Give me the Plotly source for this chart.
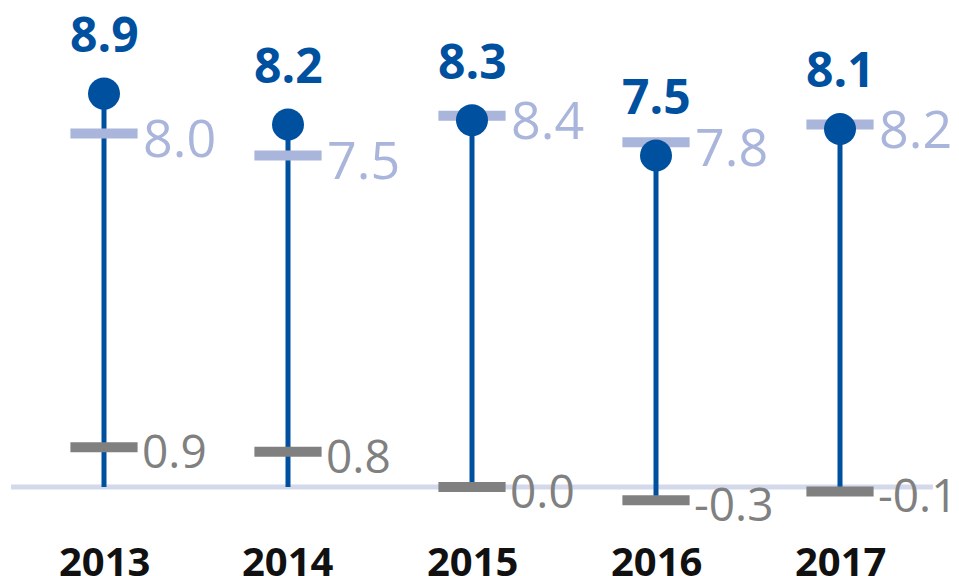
import plotly.graph_objects as go

years = ["2013", "2014", "2015", "2016", "2017"]
dot_values = [8.9, 8.2, 8.3, 7.5, 8.1]
light_values = [8.0, 7.5, 8.4, 7.8, 8.2]
gray_values = [0.9, 0.8, 0.0, -0.3, -0.1]

BLUE = "#0050a0"
LIGHT = "#a9b5da"
GRAY = "#808080"
BASE = "#d3d9eb"
FONT = "Open Sans"

xs = list(range(len(years)))
fig = go.Figure()

# baseline
fig.add_shape(type="line", x0=-0.505, x1=len(years) - 1 + 0.505, y0=0, y1=0,
              line=dict(color=BASE, width=5), layer="below")

# stems
sx, sy = [], []
for i, (d, g) in enumerate(zip(dot_values, gray_values)):
    sx += [i, i, None]
    sy += [min(0, g), d, None]
fig.add_trace(go.Scatter(x=sx, y=sy, mode="lines", line=dict(color=BLUE, width=5),
                         hoverinfo="skip"))

# dashes
fig.add_trace(go.Scatter(x=xs, y=light_values, mode="markers",
                         marker=dict(symbol="line-ew-open", size=48, color=LIGHT,
                                     line=dict(color=LIGHT, width=10))))
fig.add_trace(go.Scatter(x=xs, y=gray_values, mode="markers",
                         marker=dict(symbol="line-ew-open", size=48, color=GRAY,
                                     line=dict(color=GRAY, width=10))))
# dots
fig.add_trace(go.Scatter(x=xs, y=dot_values, mode="markers",
                         marker=dict(symbol="circle", size=32, color=BLUE)))

for i in xs:
    fig.add_annotation(x=i, y=dot_values[i], text=f"{dot_values[i]:.1f}",
                       showarrow=False, yshift=60, xanchor="center", yanchor="middle",
                       font=dict(family=FONT, size=48, color=BLUE, weight=700))
    fig.add_annotation(x=i, y=light_values[i], text=f"{light_values[i]:.1f}",
                       showarrow=False, xshift=37, yshift=-3, xanchor="left", yanchor="middle",
                       font=dict(family=FONT, size=52, color=LIGHT))
    fig.add_annotation(x=i, y=gray_values[i], text=f"{gray_values[i]:.1f}",
                       showarrow=False, xshift=36, yshift=-3, xanchor="left", yanchor="middle",
                       font=dict(family=FONT, size=46, color=GRAY))
    fig.add_annotation(x=i, y=-1.66, text=f"{years[i]}", showarrow=False,
                       xanchor="center", yanchor="middle",
                       font=dict(family=FONT, size=40, color="#111111", weight=700))

# page body adds an 8px offset; compensate in the axis ranges
OFF = 8
fig.update_layout(
    width=959, height=576, margin=dict(l=0, r=0, t=0, b=0),
    paper_bgcolor="white", plot_bgcolor="white", showlegend=False,
    xaxis=dict(range=[-(104 - OFF) / 184, (959 - 104 + OFF) / 184], visible=False, fixedrange=True),
    yaxis=dict(range=[-(576 - 487 + OFF) / 44.2, (487 - OFF) / 44.2], visible=False, fixedrange=True),
)
fig.write_html("out.html")
